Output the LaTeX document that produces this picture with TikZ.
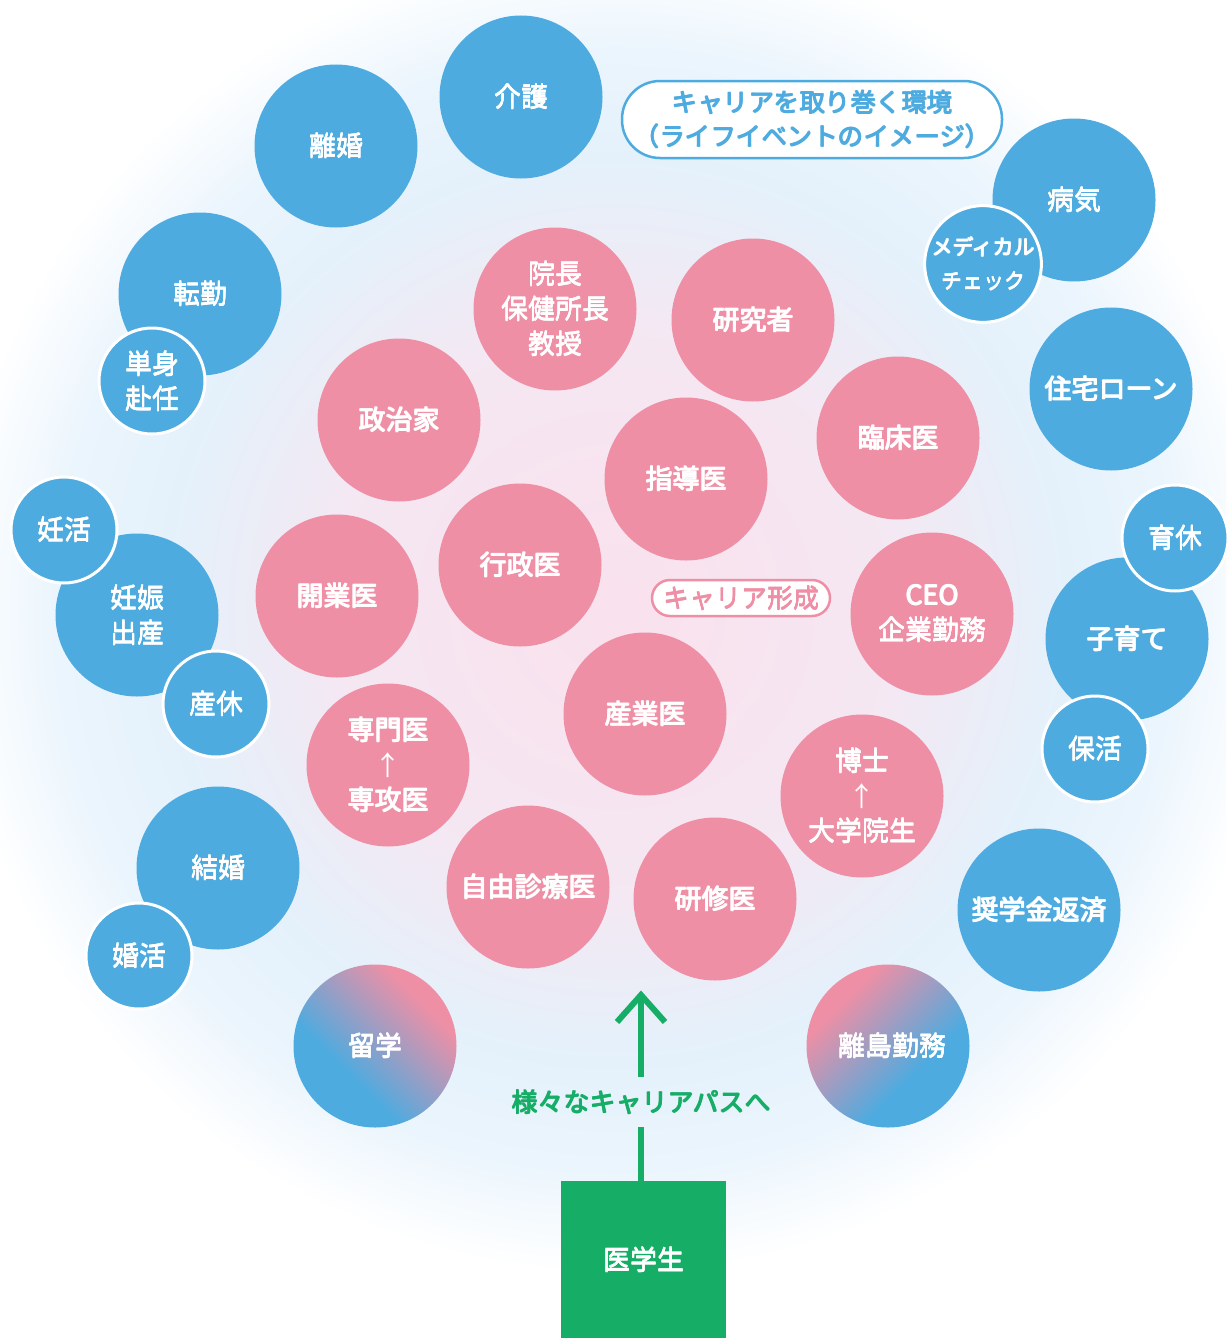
\documentclass[tikz,border=0pt]{standalone}
\usepackage{fontspec}
\newfontfamily\cjk{Noto Sans CJK JP}
\newcommand\hvd{0.9pt}
\newcommand\hv[1]{\leavevmode\rlap{\kern\hvd#1}\rlap{\raisebox{\hvd}{#1}}\rlap{\kern\hvd\raisebox{\hvd}{#1}}#1}
\definecolor{cblue}{RGB}{77,171,224}
\definecolor{cpink}{RGB}{239,143,165}
\definecolor{cgreen}{RGB}{22,174,103}
\definecolor{bgpink}{RGB}{249,225,237}
\definecolor{bgpink2}{RGB}{245,231,242}
\definecolor{bgblue}{RGB}{228,241,251}
\definecolor{bgblue2}{RGB}{235,245,253}
\pgfdeclareradialshading{bgshade}{\pgfpoint{0bp}{0bp}}{color(0bp)=(bgpink); color(10bp)=(bgpink2); color(17bp)=(bgblue); color(21bp)=(bgblue2); color(25bp)=(white); color(50bp)=(white)}
\pgfdeclareverticalshading{bluepink}{100bp}{color(0bp)=(cblue); color(38bp)=(cblue); color(70bp)=(cpink); color(100bp)=(cpink)}
\tikzset{
  txt/.style={text=white, font=\cjk\fontsize{27}{35}\selectfont, align=center},
  bigb/.style={circle, fill=cblue, minimum size=163pt, inner sep=0pt, txt},
  smallb/.style={circle, fill=cblue, draw=white, line width=3pt, minimum size=106pt, inner sep=0pt, txt},
  bigp/.style={circle, fill=cpink, minimum size=163pt, inner sep=0pt, txt},
  grad/.style={circle, minimum size=163pt, inner sep=0pt, txt, shading=bluepink},
  tagbox/.style={draw, fill=white, line width=2.5pt, inner sep=0pt, align=center},
}
\begin{document}
\begin{tikzpicture}[x=1pt,y=-1pt]
\useasboundingbox (0,0) rectangle (1226,1338);
\begin{scope}
\clip (0,0) rectangle (1226,1338);
\shade[shading=bgshade] (615,610) circle (665);
\end{scope}
% big blue circles
\node[bigb] (kaigo) at (521,97) {\hv{介護}};
\node[bigb] (rikon) at (336,146) {\hv{離婚}};
\node[bigb] (tenkin) at (200,294) {\hv{転勤}};
\node[bigb] (ninshin) at (137,615) {\hv{妊娠}\\\hv{出産}};
\node[bigb] (kekkon) at (218,868) {\hv{結婚}};
\node[bigb] (byoki) at (1074,200) {\hv{病気}};
\node[bigb] (jutaku) at (1111,389) {\hv{住宅ローン}};
\node[bigb] (kosodate) at (1127,639) {\hv{子育て}};
\node[bigb] (shogaku) at (1039,910) {\hv{奨学金返済}};
% small blue circles
\node[smallb] (tanshin) at (152,381) {\hv{単身}\\\hv{赴任}};
\node[smallb] (ninkatsu) at (64,530) {\hv{妊活}};
\node[smallb] (sankyu) at (216,704) {\hv{産休}};
\node[smallb] (konkatsu) at (139,956) {\hv{婚活}};
\node[smallb, font=\cjk\fontsize{21}{34}\selectfont] (medical) at (983,264) {\hv{メディカル}\\\hv{チェック}};
\node[smallb] (ikukyu) at (1175,538) {\hv{育休}};
\node[smallb] (hokatsu) at (1095,749) {\hv{保活}};
% gradient circles
\node[grad, shading angle=-45] (ryugaku) at (375,1046) {\hv{留学}};
\node[grad, shading angle=45] (ritou) at (888,1046) {\hspace*{8pt}\hv{離島勤務}};
% pink circles
\node[bigp] (incho) at (555,309) {\hv{院長}\\\hv{保健所長}\\\hv{教授}};
\node[bigp] (kenkyu) at (753,320) {\hv{研究者}};
\node[bigp] (seiji) at (399,420) {\hv{政治家}};
\node[bigp] (rinsho) at (898,438) {\hv{臨床医}};
\node[bigp] (shido) at (686,479) {\hv{指導医}};
\node[bigp] (gyosei) at (520,565) {\hv{行政医}};
\node[bigp] (kaigyo) at (337,596) {\hv{開業医}};
\node[bigp] (ceo) at (932,614) {\hv{CEO}\\\hv{企業勤務}};
\node[bigp] (sangyo) at (645,714) {\hv{産業医}};
\node[bigp] (senmon) at (388,765) {\hv{専門医}\\↑\\\hv{専攻医}};
\node[bigp] (hakase) at (862,796) {\hv{博士}\\↑\\\hv{大学院生}};
\node[bigp] (jiyu) at (528,887) {\hv{自由診療医}};
\node[bigp] (kenshu) at (715,899) {\hv{研修医}};
% labels
\node[tagbox, draw=cblue, rounded corners=38pt, minimum width=380pt, minimum height=77pt,
  text=cblue, font=\cjk\fontsize{25.5}{34}\selectfont] (title) at (812,119.5)
  {\hv{キャリアを取り巻く環境}\\\hv{（ライフイベントのイメージ）}};
\node[tagbox, draw=cpink, rounded corners=18pt, minimum width=178pt, minimum height=36pt,
  text=cpink, font=\cjk\fontsize{26}{30}\selectfont] (keisei) at (741,598) {\hv{キャリア形成}};
% student box and arrow
\node[fill=cgreen, minimum width=165pt, minimum height=157pt, inner sep=0pt, txt] (student) at (643.5,1259.5) {\raisebox{-10pt}{\hv{医学生}}};
\node[text=cgreen, font=\cjk\fontsize{26}{30}\selectfont, inner sep=0pt, minimum height=50pt] (path) at (641,1102) {\hv{様々なキャリアパスへ}};
\coordinate (tip) at (641,995);
\draw[cgreen, line width=6pt] (student.north -| path) -- (path.south);
\draw[cgreen, line width=6pt] (path.north) -- (tip);
\draw[cgreen, line width=6pt, miter limit=10] (tip) ++(-24,27) -- (tip) -- ++(24,27);
\end{tikzpicture}
\end{document}
